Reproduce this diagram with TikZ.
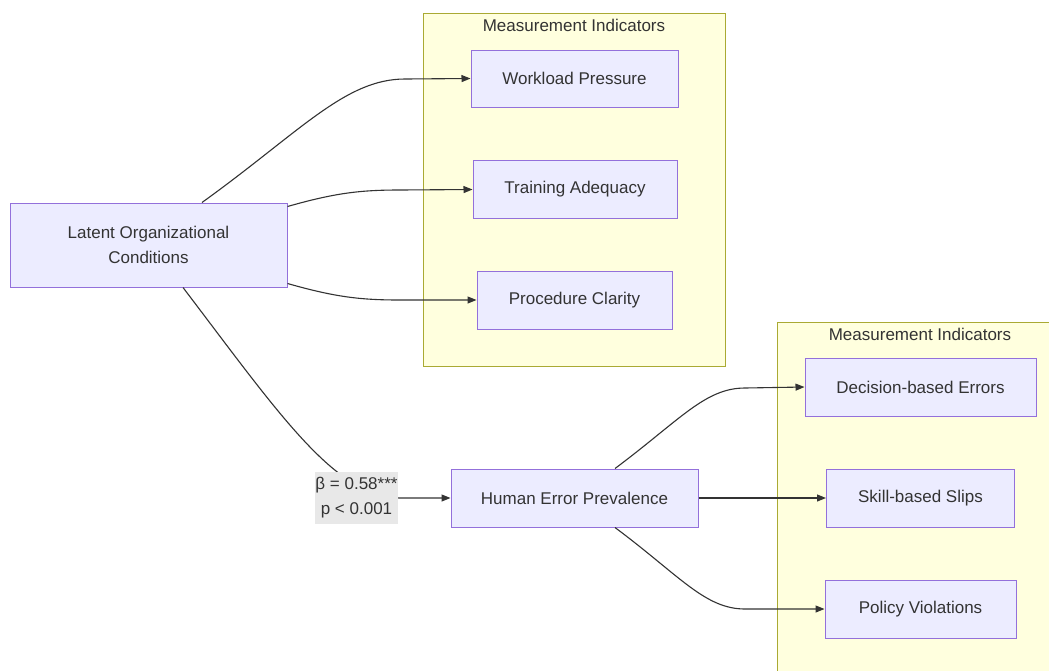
\documentclass[tikz,border=0pt]{standalone}
\usepackage{fontspec}
\setmainfont{Liberation Sans}
\usetikzlibrary{arrows.meta,calc}
\definecolor{nodefill}{HTML}{ECECFF}
\definecolor{nodestroke}{HTML}{9370DB}
\definecolor{clfill}{HTML}{FFFFDE}
\definecolor{clstroke}{HTML}{AAAA33}
\definecolor{txt}{HTML}{333333}
\definecolor{lblbg}{HTML}{E8E8E8}
\tikzset{
  box/.style={draw=nodestroke, fill=nodefill, line width=1pt, text=txt, align=center, inner sep=0pt},
  cluster/.style={draw=clstroke, fill=clfill, line width=1pt},
  cltitle/.style={text=txt, inner sep=0pt},
  conn/.style={draw=txt, line width=1.1pt, -{Triangle[length=9pt,width=7pt]}},
  elabel/.style={fill=lblbg, text=txt, align=center, inner sep=0pt, minimum width=83pt, minimum height=52pt}
}
\begin{document}
\begin{tikzpicture}[x=1pt,y=-1pt,font=\fontsize{17}{25}\selectfont]
\useasboundingbox (0,0) rectangle (1049,670);
\clip (0,0) rectangle (1049,670);
\fill[white] (0,0) rectangle (1049,670);
% clusters
\draw[cluster] (423,13) rectangle (725,366);
\node[cltitle] (t1) at (574,25) {Measurement Indicators};
\draw[cluster] (777,322) rectangle (1063,690);
\node[cltitle] (t2) at (920,334) {Measurement Indicators};
% nodes
\node[box, minimum width=277pt, minimum height=84pt] (lat) at (148.5,245) {Latent Organizational\\Conditions};
\node[box, minimum width=207pt, minimum height=57pt] (wp) at (574.5,78.5) {Workload Pressure};
\node[box, minimum width=204pt, minimum height=58pt] (ta) at (575,189.5) {Training Adequacy};
\node[box, minimum width=195pt, minimum height=58pt] (pc) at (574.5,300) {Procedure Clarity};
\node[box, minimum width=247pt, minimum height=58pt] (hum) at (574.5,498) {Human Error Prevalence};
\node[box, minimum width=231pt, minimum height=58pt] (de) at (920.5,387) {Decision-based Errors};
\node[box, minimum width=188pt, minimum height=58pt] (sk) at (920.5,498) {Skill-based Slips};
\node[box, minimum width=191pt, minimum height=58pt] (pv) at (920.5,609) {Policy Violations};
% connectors
\draw[conn] ([xshift=53.5pt]lat.north) .. controls (300,132) and (345,79) .. (405,79) -- (wp.west);
\draw[conn] ([yshift=-4pt]lat.north east) .. controls (335,193) and (360,190) .. (400,190) -- (ta.west);
\draw[conn] ([yshift=4pt]lat.south east) .. controls (335,297) and (360,300) .. (400,300) -- (pc.west);
\draw[conn] ([xshift=34.5pt]lat.south) .. controls (280,415) and (335,497) .. (400,498) -- (hum.west);
\node[elabel] (lbl) at (356.5,498) {β = 0.58***\\p < 0.001};
\draw[conn] ([xshift=40.5pt]hum.north) .. controls (680,420) and (705,388) .. (745,388) -- (de.west);
\draw[conn] (hum.east) -- (sk.west);
\draw[conn] ([xshift=40.5pt]hum.south) .. controls (680,576) and (705,609) .. (745,609) -- (pv.west);
\end{tikzpicture}
\end{document}
